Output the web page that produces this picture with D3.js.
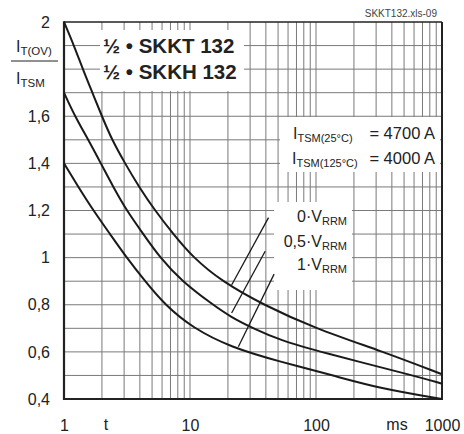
<!DOCTYPE html>
<html>
<head>
<meta charset="utf-8">
<script src="https://cdn.jsdelivr.net/npm/d3@7/dist/d3.min.js"></script>
<style>
  html, body { margin: 0; padding: 0; background: #fff; }
  svg { display: block; font-family: "Liberation Sans", Arial, Helvetica, sans-serif; }
</style>
</head>
<body>
<svg id="chart" width="464" height="434"></svg>
<script>
// ---- data ----
const xTickValues = [1, 10, 100, 1000];
const xTickLabels = ["1", "10", "100", "1000"];
const yTickValues = [2, 1.6, 1.4, 1.2, 1, 0.8, 0.6, 0.4];
const yTickLabels = ["2", "1,6", "1,4", "1,2", "1", "0,8", "0,6", "0,4"];

const tTop = [1, 1.2, 1.41, 1.68, 2.0, 2.4, 3.05, 3.94, 5.27, 7.37, 10.6, 17.8, 38, 98, 343, 1000];
const vTop = [2.0, 1.9, 1.8, 1.7, 1.6, 1.5, 1.4, 1.3, 1.2, 1.1, 1.0, 0.9, 0.8, 0.7, 0.6, 0.505];

const tMid = [1, 1.22, 1.56, 1.96, 2.46, 3.14, 4.26, 5.78, 8.6, 15.2, 20.8, 31.6, 51.9, 107, 590, 1000];
const vMid = [1.7, 1.6, 1.5, 1.4, 1.3, 1.2, 1.1, 1.0, 0.9, 0.8, 0.75, 0.7, 0.65, 0.6, 0.5, 0.465];

const tBot = [1, 1.3, 1.71, 2.32, 3.14, 4.4, 6.3, 10.6, 21, 52, 137, 320, 1000];
const vBot = [1.4, 1.3, 1.2, 1.1, 1.0, 0.9, 0.8, 0.7, 0.62, 0.558, 0.5, 0.445, 0.4];

const seriesNames = ["0·V", "0,5·V", "1·V"];
// leader lines: [t_start, v_start, t_end, v_end]
const leaderTop = [42, 1.17, 21.4, 0.884];
const leaderMid = [39.5, 1.027, 21.4, 0.765];
const leaderBot = [46.5, 0.93, 24.2, 0.622];

// ---- layout ----
const svg = d3.select("#chart");
const L = 64, R = 442, T = 22, B = 399;
const x = d3.scaleLog().domain([1, 1000]).range([L, R]);
const y = d3.scaleLinear().domain([0.4, 2]).range([B, T]);
const gridColor = "#7a7a7a";
const textColor = "#222";

// grid
const g = svg.append("g");
const xMinor = [];
for (let dec = 1; dec < 1000; dec *= 10) for (let k = 2; k <= 9; k++) xMinor.push(dec * k);
xMinor.push(10, 100);
g.selectAll(".vx").data(xMinor).join("line")
  .attr("x1", d => x(d)).attr("x2", d => x(d))
  .attr("y1", T).attr("y2", B)
  .attr("stroke", gridColor).attr("stroke-width", 1);
const yGrid = d3.range(5, 20).map(d => d / 10);
g.selectAll(".hy").data(yGrid).join("line")
  .attr("x1", L).attr("x2", R)
  .attr("y1", d => y(d)).attr("y2", d => y(d))
  .attr("stroke", gridColor).attr("stroke-width", 1);

// white boxes that interrupt the grid behind text
const boxes = [
  [100, 30, 244, 91],
  [280, 117, 440, 172],
  [274, 202, 352, 290]
];
svg.selectAll(".box").data(boxes).join("rect")
  .attr("x", d => d[0]).attr("y", d => d[1])
  .attr("width", d => d[2] - d[0]).attr("height", d => d[3] - d[1])
  .attr("fill", "#fff");

// frame
svg.append("line").attr("x1", L).attr("x2", R).attr("y1", T).attr("y2", T).attr("stroke", "#222").attr("stroke-width", 1.6);
svg.append("line").attr("x1", R).attr("x2", R).attr("y1", T).attr("y2", B).attr("stroke", "#222").attr("stroke-width", 2);
svg.append("line").attr("x1", L).attr("x2", L).attr("y1", T - 0.8).attr("y2", B + 1).attr("stroke", "#222").attr("stroke-width", 2.2);
svg.append("line").attr("x1", L - 1).attr("x2", R + 1).attr("y1", B).attr("y2", B).attr("stroke", "#222").attr("stroke-width", 2.2);

// curves
const line = d3.line().x(d => x(d[0])).y(d => y(d[1])).curve(d3.curveBasis);
const curves = [d3.zip(tTop, vTop), d3.zip(tMid, vMid), d3.zip(tBot, vBot)];
svg.selectAll(".curve").data(curves).join("path")
  .attr("d", line).attr("fill", "none").attr("stroke", "#1a1a1a").attr("stroke-width", 2);

// leader lines
svg.selectAll(".leader").data([leaderTop, leaderMid, leaderBot]).join("line")
  .attr("x1", d => x(d[0])).attr("y1", d => y(d[1]))
  .attr("x2", d => x(d[2])).attr("y2", d => y(d[3]))
  .attr("stroke", "#1a1a1a").attr("stroke-width", 1.3);

// axes (labels only)
const xAxis = d3.axisBottom(x).tickValues(xTickValues).tickSize(0).tickPadding(21)
  .tickFormat((d, i) => xTickLabels[i]);
const gx = svg.append("g").attr("transform", `translate(0,${B})`).call(xAxis);
gx.select(".domain").remove();
gx.selectAll("text").attr("font-size", 16).attr("fill", textColor)
  .attr("font-family", "Liberation Sans, Arial, sans-serif");

const yAxis = d3.axisLeft(y).tickValues(yTickValues).tickSize(0).tickPadding(14)
  .tickFormat((d, i) => yTickLabels[i]);
const gy = svg.append("g").attr("transform", `translate(${L},0)`).call(yAxis);
gy.select(".domain").remove();
gy.selectAll("text").attr("font-size", 16).attr("fill", textColor)
  .attr("font-family", "Liberation Sans, Arial, sans-serif");

// x-axis extra labels
svg.append("text").attr("x", 106).attr("y", 430).attr("text-anchor", "middle")
  .attr("font-size", 16).attr("fill", textColor).text("t");
svg.append("text").attr("x", 397).attr("y", 430).attr("text-anchor", "middle")
  .attr("font-size", 16).attr("fill", textColor).text("ms");

// helper for text with subscript
function subText(xp, yp, main, sub, after, opts = {}) {
  const t = svg.append("text").attr("x", xp).attr("y", yp)
    .attr("font-size", opts.fs || 16).attr("fill", textColor)
    .attr("text-anchor", opts.anchor || "start");
  t.append("tspan").text(main);
  t.append("tspan").attr("font-size", opts.subfs || 11).attr("dy", opts.subdy || 4).text(sub);
  if (after) t.append("tspan").attr("dy", -(opts.subdy || 4)).text(after);
  return t;
}

// y-axis title (fraction)
subText(16, 52, "I", "T(OV)", null, { fs: 16, subfs: 11.5, subdy: 3 });
svg.append("line").attr("x1", 11).attr("x2", 58).attr("y1", 61).attr("y2", 61)
  .attr("stroke", textColor).attr("stroke-width", 1);
subText(16, 84, "I", "TSM", null, { fs: 16, subfs: 11.5, subdy: 3 });

// title
svg.append("text").attr("x", 103).attr("y", 53).attr("font-size", 20.5).attr("font-weight", "bold")
  .attr("fill", textColor).text("½ • SKKT 132");
svg.append("text").attr("x", 103).attr("y", 79).attr("font-size", 20.5).attr("font-weight", "bold")
  .attr("fill", textColor).text("½ • SKKH 132");

// file tag
svg.append("text").attr("x", 437).attr("y", 17).attr("text-anchor", "end")
  .attr("font-size", 10).attr("fill", "#444").text("SKKT132.xls-09");

// ITSM labels
subText(293, 139, "I", "TSM(25°C)", null, { fs: 16, subfs: 11, subdy: 3 });
svg.append("text").attr("x", 435).attr("y", 139).attr("text-anchor", "end")
  .attr("font-size", 16.5).attr("fill", textColor).text("= 4700 A");
subText(292, 164, "I", "TSM(125°C)", null, { fs: 16, subfs: 11, subdy: 3 });
svg.append("text").attr("x", 435).attr("y", 164).attr("text-anchor", "end")
  .attr("font-size", 16.5).attr("fill", textColor).text("= 4000 A");

// VRRM labels
subText(347, 222, seriesNames[0], "RRM", null, { fs: 16, subfs: 11, subdy: 3, anchor: "end" });
subText(347, 247, seriesNames[1], "RRM", null, { fs: 16, subfs: 11, subdy: 3, anchor: "end" });
subText(347, 270, seriesNames[2], "RRM", null, { fs: 16, subfs: 11, subdy: 3, anchor: "end" });
</script>
</body>
</html>
